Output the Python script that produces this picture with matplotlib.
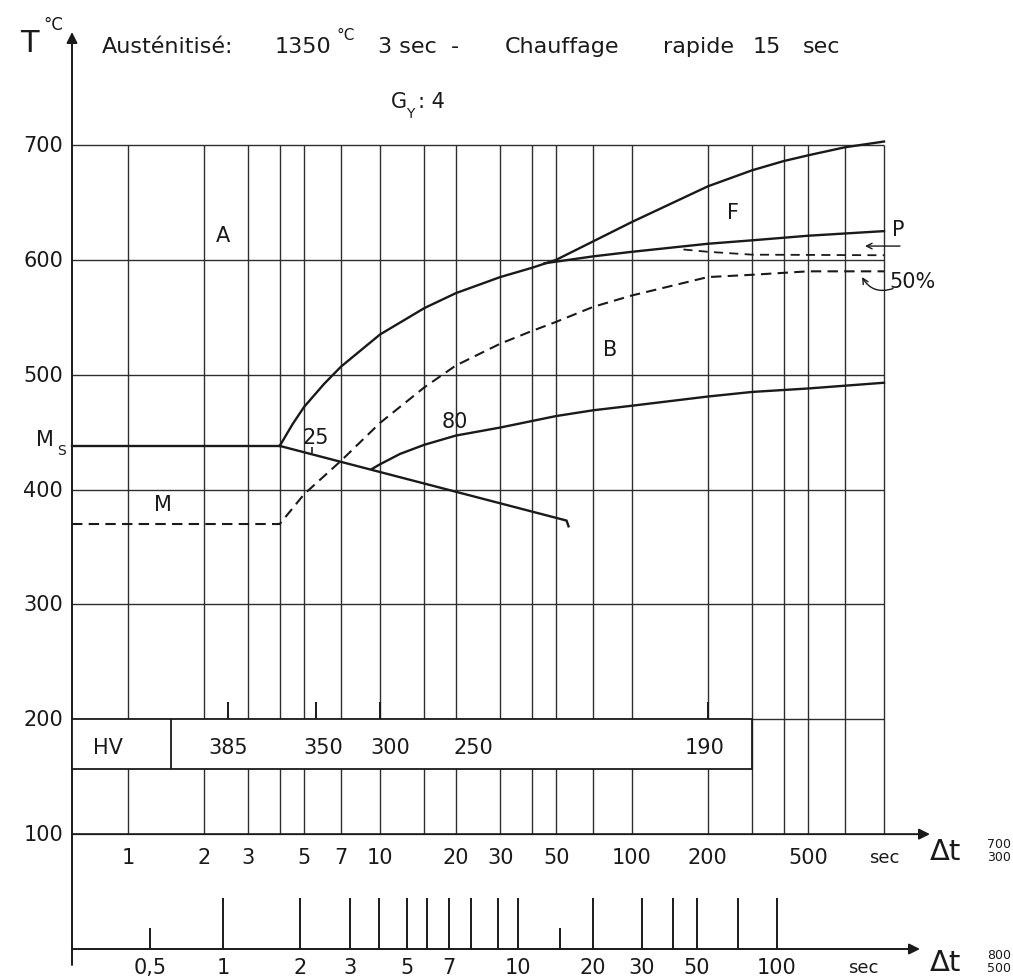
import matplotlib.pyplot as plt
from matplotlib.patches import Rectangle

# Δt 700/300 (sec) grid of the diagram, T in °C
grid_t = [1, 2, 3, 4, 5, 7, 10, 15, 20, 30, 40, 50, 70, 100, 200, 300, 400, 500, 700, 1000]
grid_T = [200, 300, 400, 500, 600, 700]
y_ticks = [100, 200, 300, 400, 500, 600, 700]
top_ticks = [1, 2, 3, 5, 7, 10, 20, 30, 50, 100, 200, 500, 1000]
top_labels = ['1', '2', '3', '5', '7', '10', '20', '30', '50', '100', '200', '500', 'sec']

# Δt 800/500 scale, with the Δt 700/300 value each tick sits at
bot_vals = [0.5, 1, 2, 3, 4, 5, 6, 7, 8, 9, 10, 15, 20, 30, 40, 50, 70, 100]
bot_equiv = [1.22, 2.38, 4.81, 7.59, 9.9, 12.8, 15.4, 18.8, 22.9, 29.4, 35.3, 51.9, 70.1, 109.5, 145, 181, 263, 376]
bot_labels = ['0,5', '1', '2', '3', '', '5', '', '7', '', '', '10', '', '20', '30', '', '50', '', '100']

# transformation curves
ms_T = 438
m_T = 370
nose_t = 4
drop_t = [4, 55, 56]
drop_T = [438, 373, 368]
fer_t = [4, 4.5, 5, 6, 7, 10, 15, 20, 30, 40, 50, 70, 100, 200, 300, 400, 500, 700, 1000]
fer_T = [438, 457, 472, 492, 507, 535, 558, 571, 585, 593, 600, 616, 633, 664, 678, 686, 691, 698, 703]
perl_t = [45, 70, 100, 200, 300, 500, 1000]
perl_T = [597, 603, 607, 614, 617, 621, 625]
p50_t = [160, 200, 300, 1000]
p50_T = [609, 607, 604.5, 604]
b50_t = [4, 5, 7, 10, 15, 20, 30, 40, 50, 70, 100, 200, 300, 500, 1000]
b50_T = [370, 396, 425, 458, 489, 508, 527, 538, 546, 559, 569, 585, 587, 590, 590]
b80_t = [9.3, 10, 12, 15, 20, 30, 50, 70, 100, 200, 300, 500, 1000]
b80_T = [418, 422, 431, 439, 447, 454, 464, 469, 473, 481, 485, 488, 493]

# hardness row
hv_vals = ['385', '350', '300', '250', '190']
hv_t = [2.49, 5.95, 10.96, 23.4, 195]
hv_tick_t = [2.49, 5.56, 10, 201]
hv_low, hv_high = 157, 200
hv_split = 1.48
hv_end = 300

W, H = 1013, 979
X0, DEC = 128, 252        # pixel of t=1, pixels per decade
Y0, PPC = 950, 1.1486     # pixel of 0 °C, pixels per °C


def tx(p):
    return 10 ** ((p - X0) / DEC)


def ty(p):
    return (Y0 - p) / PPC


fig = plt.figure(figsize=(W / 100, H / 100), dpi=100)
ax = fig.add_axes([0, 0, 1, 1])
ax.set_xscale('log')
ax.set_xlim(tx(0), tx(W))
ax.set_ylim(ty(H), ty(0))
ax.axis('off')

ink = '#1a1a1a'
gcol = '#2e2e2e'
x_axis = tx(72)
fs = 15

# grid
ax.vlines(grid_t, 100, 700, color=gcol, lw=1.0, zorder=1)
ax.hlines(grid_T, x_axis, 1000, color=gcol, lw=1.0, zorder=1)

# axes with arrows
arr = dict(arrowstyle='-|>', color=ink, lw=1.4, mutation_scale=16, shrinkA=0, shrinkB=0)
ax.annotate('', xy=(x_axis, ty(33)), xytext=(x_axis, ty(966)), arrowprops=arr)
ax.annotate('', xy=(tx(930), 100), xytext=(x_axis, 100), arrowprops=arr)
ax.annotate('', xy=(tx(920), 0), xytext=(x_axis, 0), arrowprops=arr)

# y labels
for v in y_ticks:
    ax.text(tx(63), v, str(v), ha='right', va='center', fontsize=fs, color=ink)

# top scale labels
for t, lab in zip(top_ticks, top_labels):
    ax.text(t, ty(858), lab, ha='center', va='center',
            fontsize=13 if lab == 'sec' else fs, color=ink)

# bottom scale ticks + labels
for v, t, lab in zip(bot_vals, bot_equiv, bot_labels):
    h = 18 if v in (0.5, 15) else 44
    ax.vlines(t, 0, h, color=ink, lw=1.4, zorder=2)
    if lab:
        ax.text(t, ty(968), lab, ha='center', va='center', fontsize=fs, color=ink)
ax.text(tx(863), ty(968), 'sec', ha='center', va='center', fontsize=13, color=ink)

# Δt axis names
for yc, up, lo in [(852, '700', '300'), (963, '800', '500')]:
    ax.text(tx(930), ty(yc), 'Δt', ha='left', va='center', fontsize=21, color=ink)
    ax.text(tx(999), ty(yc - 7), up, ha='center', va='center', fontsize=9, color=ink)
    ax.text(tx(999), ty(yc + 6), lo, ha='center', va='center', fontsize=9, color=ink)

# hardness box
ax.add_patch(Rectangle((x_axis, hv_low), hv_end - x_axis, hv_high - hv_low,
                       facecolor='white', edgecolor=ink, lw=1.3, zorder=3))
ax.vlines(hv_split, hv_low, hv_high, color=ink, lw=1.3, zorder=4)
ax.text(tx(108), 176, 'HV', ha='center', va='center', fontsize=fs, color=ink, zorder=5)
for t, lab in zip(hv_t, hv_vals):
    ax.text(t, 176, lab, ha='center', va='center', fontsize=fs, color=ink, zorder=5)
ax.vlines(hv_tick_t, hv_high, hv_high + 15, color=ink, lw=1.4, zorder=4)

# curves
lw = 1.7
ax.plot([x_axis, nose_t], [ms_T, ms_T], color=ink, lw=lw, zorder=5)
ax.plot(drop_t, drop_T, color=ink, lw=lw, zorder=5)
ax.plot(fer_t, fer_T, color=ink, lw=lw, zorder=5)
ax.plot(perl_t, perl_T, color=ink, lw=lw, zorder=5)
ax.plot(b80_t, b80_T, color=ink, lw=lw, zorder=5)
ax.plot([x_axis] + b50_t, [m_T] + b50_T, color=ink, lw=1.5, ls=(0, (5, 3)), zorder=5)
ax.plot(p50_t, p50_T, color=ink, lw=1.3, ls=(0, (5, 3.5)), zorder=5)

# small 25 % mark on the Ms line
ax.vlines(5.38, 432, 437, color=ink, lw=1.2, zorder=5)

# region labels
for lab, t, T in [('A', 2.39, 622), ('B', 81.7, 522), ('F', 251, 642), ('M', 1.377, 387),
                  ('25', 5.56, 446), ('80', 19.9, 460), ('P', 1140, 627), ('50%', 1300, 582)]:
    ax.text(t, T, lab, ha='center', va='center', fontsize=fs, color=ink, zorder=6)

ax.annotate('', xy=(tx(865), 612), xytext=(tx(900), 612),
            arrowprops=dict(arrowstyle='->', color=ink, lw=1.0, shrinkA=0, shrinkB=0))
ax.annotate('', xy=(tx(862), 585), xytext=(tx(893), 575),
            arrowprops=dict(arrowstyle='->', color=ink, lw=1.0, shrinkA=0, shrinkB=0,
                            connectionstyle='arc3,rad=-0.4'))

# Ms label
ax.text(tx(45), ty(440), 'M', ha='center', va='center', fontsize=fs, color=ink)
ax.text(tx(62), ty(451), 'S', ha='center', va='center', fontsize=10, color=ink)

# T °C
ax.text(tx(29), ty(43), 'T', ha='center', va='center', fontsize=22, color=ink)
ax.text(tx(53), ty(25), '°C', ha='center', va='center', fontsize=12, color=ink)

# heading
head = dict(ha='left', va='center', fontsize=16, color=ink)
ax.text(tx(102), ty(47), 'Austénitisé:', **head)
ax.text(tx(275), ty(47), '1350', **head)
ax.text(tx(336), ty(35), '°C', ha='left', va='center', fontsize=11, color=ink)
ax.text(tx(378), ty(47), '3 sec  -', **head)
ax.text(tx(505), ty(47), 'Chauffage', **head)
ax.text(tx(663), ty(47), 'rapide', **head)
ax.text(tx(753), ty(47), '15', **head)
ax.text(tx(803), ty(47), 'sec', **head)

ax.text(tx(391), ty(102), 'G', ha='left', va='center', fontsize=fs, color=ink)
ax.text(tx(406), ty(114), 'Y', ha='left', va='center', fontsize=10, color=ink)
ax.text(tx(418), ty(102), ': 4', ha='left', va='center', fontsize=fs, color=ink)

fig.savefig('out.png', dpi=100, facecolor='white')
